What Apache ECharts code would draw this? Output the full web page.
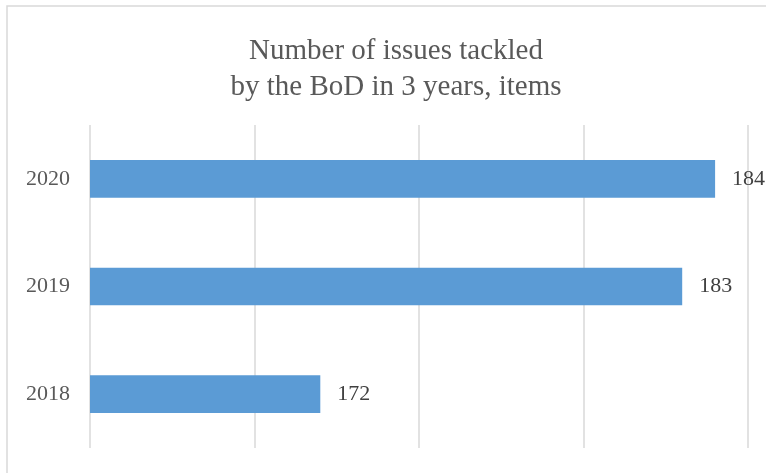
<!DOCTYPE html>
<html>
<head>
<meta charset="utf-8">
<script src="https://cdn.jsdelivr.net/npm/echarts@6/dist/echarts.min.js"></script>
<style>
html,body{margin:0;padding:0;background:#fff;}
#chart{width:766px;height:473px;}
</style>
</head>
<body>
<div id="chart"></div>
<script>
const categories = ['2018', '2019', '2020'];
const values = [172, 183, 184];
const titleLines = ['Number of issues tackled', 'by the BoD in 3 years, items'];

const chart = echarts.init(document.getElementById('chart'), null, {renderer: 'canvas'});
const serif = '"Liberation Serif", "Times New Roman", serif';
chart.setOption({
  animation: false,
  backgroundColor: '#ffffff',
  graphic: [{
    type: 'rect',
    shape: {x: 7, y: 6, width: 800, height: 500},
    style: {fill: 'none', stroke: '#d9d9d9', lineWidth: 1.5},
    silent: true,
    z: -1
  }],
  title: {
    text: titleLines.join('\n'),
    left: 391,
    top: 28,
    textAlign: 'center',
    textStyle: {
      fontFamily: serif,
      fontSize: 29,
      fontWeight: 'normal',
      color: '#595959',
      lineHeight: 36
    }
  },
  grid: {left: 90, right: 18, top: 125, bottom: 25, containLabel: false},
  xAxis: {
    type: 'value',
    min: 165,
    max: 185,
    interval: 5,
    axisLabel: {show: false},
    axisLine: {show: false},
    axisTick: {show: false},
    splitLine: {show: true, lineStyle: {color: '#d9d9d9', width: 1.5}}
  },
  yAxis: {
    type: 'category',
    data: categories,
    axisLine: {show: false},
    axisTick: {show: false},
    axisLabel: {
      fontFamily: serif,
      fontSize: 22,
      color: '#595959',
      margin: 20
    }
  },
  series: [{
    type: 'bar',
    data: values,
    barWidth: '35%',
    itemStyle: {color: '#5b9bd5'},
    label: {
      show: true,
      position: 'right',
      distance: 17,
      fontFamily: serif,
      fontSize: 22,
      color: '#404040'
    }
  }]
});
</script>
</body>
</html>
